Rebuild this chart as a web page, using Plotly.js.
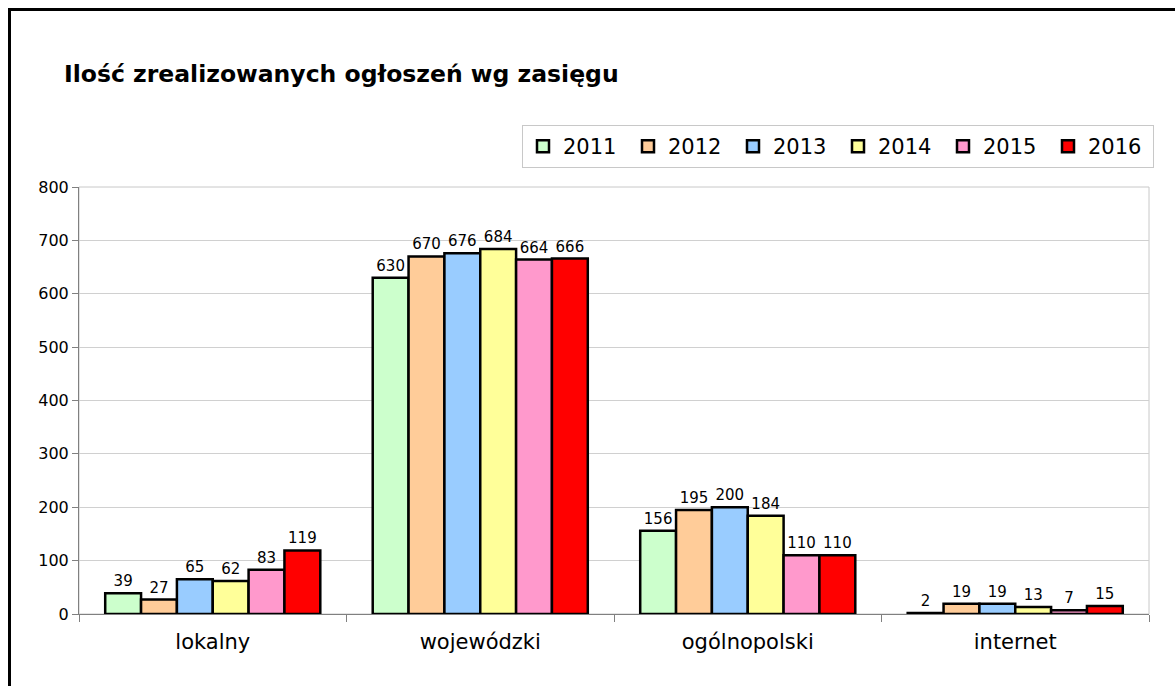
<!DOCTYPE html>
<html>
<head>
<meta charset="utf-8">
<script src="https://cdn.plot.ly/plotly-3.0.1.min.js"></script>
<style>
html,body{margin:0;padding:0;background:#fff;}
#wrap{position:relative;width:1175px;height:686px;overflow:hidden;}
#chart{position:absolute;left:0;top:0;width:1175px;height:686px;}
#frame{position:absolute;left:8px;top:8px;width:1300px;height:800px;border-left:3px solid #000;border-top:3px solid #000;pointer-events:none;}
</style>
</head>
<body>
<div id="wrap"><div id="chart"></div><div id="frame"></div></div>
<script>
const categories = ["lokalny", "wojewódzki", "ogólnopolski", "internet"];
const years = ["2011", "2012", "2013", "2014", "2015", "2016"];
const v2011 = [39, 630, 156, 2];
const v2012 = [27, 670, 195, 19];
const v2013 = [65, 676, 200, 19];
const v2014 = [62, 684, 184, 13];
const v2015 = [83, 664, 110, 7];
const v2016 = [119, 666, 110, 15];
const seriesValues = [v2011, v2012, v2013, v2014, v2015, v2016];
const colors = ["#CCFFCC", "#FFCC99", "#99CCFF", "#FFFF99", "#FF99CC", "#FF0000"];
const yTicks = [0, 100, 200, 300, 400, 500, 600, 700, 800];

const FONT = "Verdana, 'DejaVu Sans', sans-serif";

const traces = years.map((y, i) => ({
  type: "bar",
  name: y,
  x: categories,
  y: seriesValues[i],
  text: seriesValues[i].map(String),
  textposition: "outside",
  textfont: {family: FONT, size: 15, color: "#000"},
  cliponaxis: false,
  marker: {color: colors[i], line: {color: "#000", width: 2.5}}
}));

const layout = {
  width: 1175,
  height: 686,
  margin: {l: 79, r: 26, t: 187, b: 72, pad: 0},
  paper_bgcolor: "#fff",
  plot_bgcolor: "#fff",
  barmode: "group",
  bargap: 0.196,
  bargroupgap: 0,
  font: {family: FONT, color: "#000"},
  title: {
    text: "<b>Ilość zrealizowanych ogłoszeń wg zasięgu</b>",
    font: {family: FONT, size: 23.5, color: "#000"},
    x: 64 / 1175, xanchor: "left", xref: "container",
    y: 1 - 74 / 686, yanchor: "middle", yref: "container"
  },
  xaxis: {
    type: "category",
    showline: true, linecolor: "#808080", linewidth: 1,
    ticks: "outside", ticklen: 7, tickcolor: "#808080",
    tickson: "boundaries",
    ticklabelstandoff: 9,
    tickfont: {family: FONT, size: 21, color: "#000"},
    showgrid: false, zeroline: false,
    mirror: false
  },
  yaxis: {
    range: [0, 800],
    tickvals: yTicks,
    ticktext: yTicks.map(String),
    showline: true, linecolor: "#808080", linewidth: 1,
    ticks: "outside", ticklen: 6, tickcolor: "#808080",
    tickfont: {family: FONT, size: 16, color: "#000"},
    showgrid: true, gridcolor: "#d0d0d0", gridwidth: 1,
    zeroline: false,
    fixedrange: true
  },
  shapes: [
    {type: "rect", xref: "paper", yref: "paper", x0: 0, x1: 1, y0: 0, y1: 1,
     line: {color: "#c8c8c8", width: 1}, layer: "below"}
  ],
  legend: {
    orientation: "h",
    x: (1154 - 79) / 1070, xanchor: "right",
    y: (614 - 125) / 427, yanchor: "top",
    bgcolor: "#fff",
    bordercolor: "#c8c8c8", borderwidth: 1,
    font: {family: FONT, size: 21, color: "#000"},
    itemwidth: 30,
    entrywidth: 60,
    entrywidthmode: "pixels",
    traceorder: "normal",
    tracegroupgap: 0
  },
  showlegend: true
};

Plotly.newPlot("chart", traces, layout, {displayModeBar: false, staticPlot: true});
</script>
</body>
</html>
